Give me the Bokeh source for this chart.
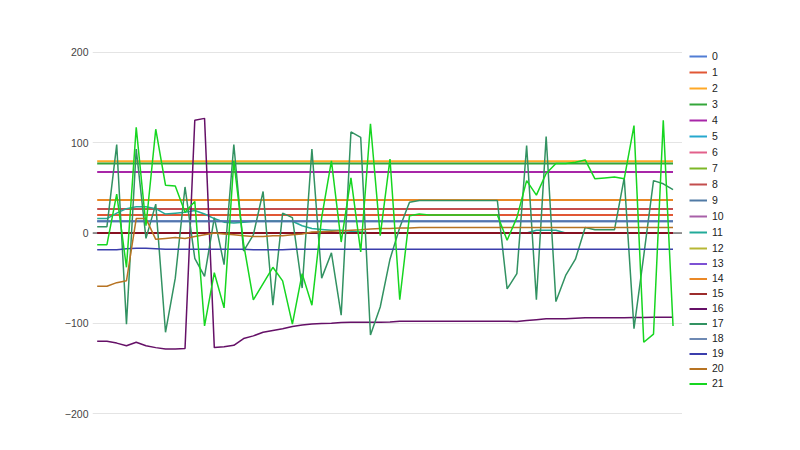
from bokeh.plotting import figure
from bokeh.layouts import row
from bokeh.models import Range1d, FixedTicker, Span, Legend, LegendItem, ColumnDataSource
from bokeh.embed import file_html
from bokeh.resources import INLINE

N = 60
x = list(range(N))

palette = ["#3366cc", "#dc3912", "#ff9900", "#109618", "#990099", "#0099c6",
           "#dd4477", "#66aa00", "#b82e2e", "#316395", "#994499", "#22aa99",
           "#aaaa11", "#6633cc", "#e67300", "#8b0707", "#651067", "#329262",
           "#5574a6", "#3b3eac", "#b77322", "#16d620"]

# constant-valued series
flat_levels = {0: 13, 1: 20, 2: 79.5, 3: 77, 4: 67.5, 5: 0, 6: 0, 7: 0, 8: 26.5,
               9: 0, 10: 0, 12: 0, 13: 0, 14: 36.5, 15: 0, 18: 13}

s11 = [16, 16, 22, 27, 29, 29, 27, 21, 22, 23, 25, 21, 16, 12, 11, 12, 13, 13, 13, 13,
       13, 8, 5, 4, 3, 3, 2, 1, 0, 0, 0, 0, 0, 0, 0, 0, 0, 0, 0, 0,
       0, 0, 0, 0, 0, 3, 3, 3, 0, 0, 0, 0, 0, 0, 0, 0, 0, 0, 0, 0]

s16 = [-120, -120, -122, -125, -121, -125, -127, -128.5, -128.5, -128, 125, 127, -127, -126, -124.5, -117, -114, -110, -108, -106,
       -103.6, -102, -100.8, -100.3, -100, -99.3, -98.8, -98.8, -98.8, -98.8, -98.5, -97.7, -97.7, -97.7, -97.7, -97.7, -97.7, -97.7, -97.7, -97.7,
       -97.7, -97.7, -97.7, -98, -97, -96, -95, -95, -95, -94.5, -94, -94, -94, -94, -94, -93.5, -93.5, -93.3, -93.3, -93.3]

s17 = [7, 7, 98, -101, 93, -6, 32, -110, -50, 51, -28, -48, 17, -35, 98, -20, -2, 46, -80, 22,
       17, -61, 93, -50, -22, -91, 112, 106, -113, -82, -29, 6, 34, 36, 36, 36, 36, 36, 36, 36,
       36, 36, -62, -45, 97, -74, 107, -76, -47, -29, 6, 3.5, 3.5, 3.5, 61, -106, -25, 58, 54.5, 48]

s19 = [-18.5, -18.5, -18.5, -17.5, -17, -17, -17.5, -18, -18, -18, -18, -18, -18, -18, -18, -18, -18.5, -18.5, -18.5, -18.5,
       -18, -18, -18, -18, -18, -18, -18, -18, -18, -18, -18, -18, -18, -18, -18, -18, -18, -18, -18, -18,
       -18, -18, -18, -18, -18, -18, -18, -18, -18, -18, -18, -18, -18, -18, -18, -18, -18, -18, -18, -18]

s20 = [-59, -59, -55, -53, 16, 16, -7, -6, -5, -6, -4, -2, 0, -1, -2, -3, -4, -4, -3, -3,
       -2, -1, 1, 1.5, 2, 2.5, 3, 3.5, 4.5, 5, 5, 5.5, 5.5, 6, 6, 6, 6, 6, 6, 6,
       6, 6, 6, 6, 6, 6, 6, 6, 6, 6, 6, 6, 6, 6, 6, 6, 6, 6, 6, 6]

s21 = [-13, -13, 43, -38, 117, 8, 115, 53, 52, 23, 35, -103, -44, -83, 80, -12, -74, -56, -38, -53,
       -101, -45, -80, 17, 80, -10, 61, -21, 121, -3, 82, -74, 19, 21, 20, 20, 20, 20, 20, 20,
       20, 20, -8, 17, 58, 42, 66, 77, 77, 78.5, 81, 60, 61, 62, 60, 119, -121, -112, 125, -103]

varying = {11: s11, 16: s16, 17: s17, 19: s19, 20: s20, 21: s21}

y_ticks = [-200, -100, 0, 100, 200]
labels = [str(k) for k in range(22)]

H = 442
p = figure(width=682, height=H, output_backend="svg", toolbar_location=None,
           x_axis_location=None, y_axis_location="left",
           x_range=Range1d(-0.48, 59.97), y_range=Range1d(-208.86, 208.86),
           min_border_left=92, min_border_right=0, min_border_top=44, min_border_bottom=21)
p.outline_line_color = None
p.background_fill_color = "white"
p.border_fill_color = "white"

ax = p.yaxis[0]
ax.ticker = FixedTicker(ticks=y_ticks)
ax.axis_line_color = None
ax.major_tick_line_color = None
ax.minor_tick_line_color = None
ax.major_tick_out = 0
ax.major_tick_in = 0
ax.major_label_standoff = 4
ax.major_label_text_font = "Liberation Sans"
ax.major_label_text_font_size = "10.5px"
ax.major_label_text_color = "#444444"

p.xgrid.visible = False
p.ygrid.ticker = FixedTicker(ticks=y_ticks)
p.ygrid.grid_line_color = "#e4e4e4"
p.ygrid.grid_line_width = 1

p.add_layout(Span(location=0, dimension="width", line_color="#333333", line_width=1, level="underlay"))

sources, widths, alphas = [], [], []
for k in range(22):
    if k in varying:
        ys = varying[k]
        lw, al = 1.5, 1.0
    else:
        ys = [flat_levels[k]] * N
        lw, al = 2, 0.85
    src = ColumnDataSource(dict(x=x, y=ys))
    sources.append(src)
    widths.append(lw)
    alphas.append(al)
    p.line("x", "y", source=src, line_color=palette[k], line_width=lw, line_alpha=al)

# legend panel: a second figure whose frame (aligned with the main frame, page y 44..421) holds the legend;
# its ranges lie outside the data so only the legend swatches show
q = figure(width=110, height=H, output_backend="svg", toolbar_location=None,
           x_axis_location=None, y_axis_location=None,
           x_range=Range1d(-10, -9), y_range=Range1d(-10, -9),
           min_border_left=0, min_border_right=0, min_border_top=44, min_border_bottom=21)
q.outline_line_color = None
q.grid.visible = False
q.background_fill_color = "white"
q.border_fill_color = "white"

leg_renderers = []
for k in range(22):
    r = q.line("x", "y", source=sources[k], line_color=palette[k], line_width=2, line_alpha=alphas[k])
    leg_renderers.append(r)

def make_legend(idx, h, loc):
    return Legend(items=[LegendItem(label=labels[k], renderers=[leg_renderers[k]]) for k in idx],
                  location=loc, orientation="vertical",
                  glyph_width=18, glyph_height=h, label_height=h, spacing=0,
                  padding=0, margin=0, label_standoff=5,
                  label_text_font="Liberation Sans", label_text_font_size="10.5px",
                  label_text_color="#222222",
                  border_line_alpha=0, background_fill_alpha=0)

# item centres at page y 56 ... 383; frame bottom at page y 421
q.add_layout(make_legend(list(range(0, 13)), 16, (7, 421 - 256)))
q.add_layout(make_legend(list(range(13, 22)), 15, (7, 421 - 390.5)))

open("out.html", "w").write(file_html(row(p, q), INLINE))
